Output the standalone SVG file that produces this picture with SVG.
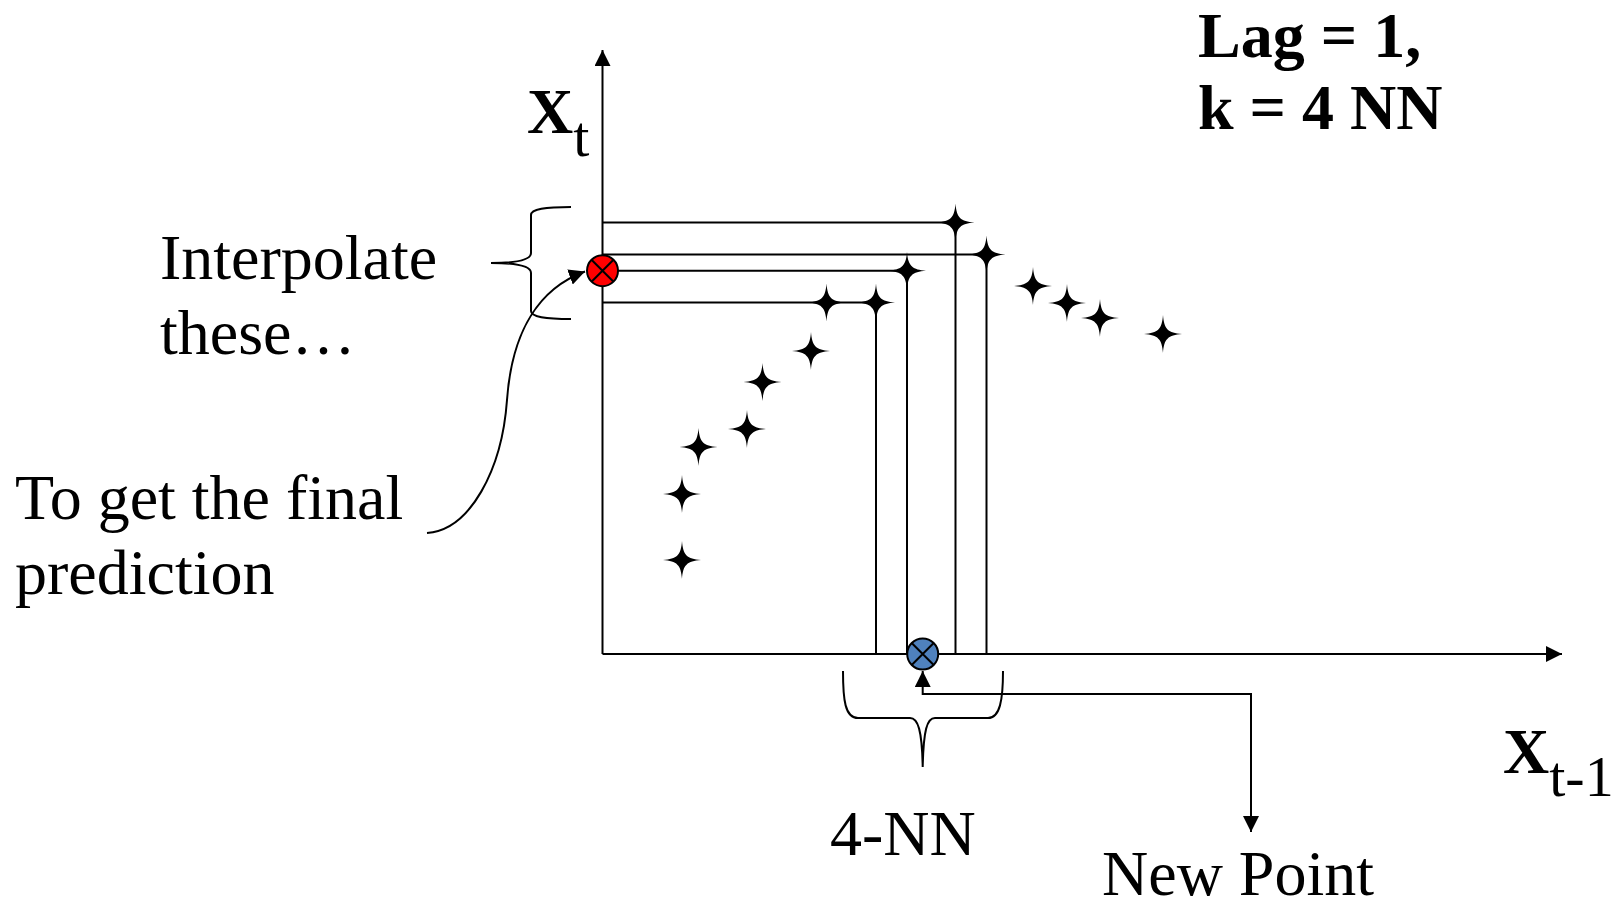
<svg xmlns="http://www.w3.org/2000/svg" width="1620" height="906" viewBox="0 0 1620 906">
<style>
.ln{stroke:#000;stroke-width:2;fill:none}
.txt{font-family:"Liberation Serif","Times New Roman",serif;font-size:64px;fill:#000}
.b{font-weight:bold}
.star{fill:#000}
</style>
<defs>
<marker id="ahb" viewBox="0 0 10 10" refX="10" refY="5" markerWidth="8" markerHeight="8" orient="auto"><path d="M0,0 L10,5 L0,10 Z" fill="#000"/></marker>
<path id="st" d="M0,-19 C1,-5 5,-1 19,0 C5,1 1,5 0,19 C-1,5 -5,1 -19,0 C-5,-1 -1,-5 0,-19 Z"/>
</defs>
<rect width="1620" height="906" fill="#fff"/>
<g id="connectors">
<line class="ln" x1="602.5" y1="654" x2="602.5" y2="50" marker-end="url(#ahb)"/>
<line class="ln" x1="602.5" y1="654" x2="1562" y2="654" marker-end="url(#ahb)"/>
<polyline class="ln" points="602.5,222.5 955.5,222.5 955.5,654"/>
<polyline class="ln" points="602.5,254.5 986.5,254.5 986.5,654"/>
<polyline class="ln" points="602.5,270.7 907,270.7 907,654"/>
<polyline class="ln" points="602.5,302.5 876,302.5 876,654"/>
<path class="ln" d="M571,207 C545,207 531,209 531,215 L531,253 C531,260 515,263 491,263 C515,263 531,266 531,273 L531,311 C531,317 545,319 571,319"/>
<path class="ln" d="M427,533 C470,530 502,470 507,400 C512,330 540,288 585,271.5" marker-end="url(#ahb)"/>
<path class="ln" d="M843,671 C843,700 845,718 858,718 L910,718 C918,718 922,730 922.7,767 C923.5,730 927,718 935,718 L988,718 C1000,718 1003,700 1003,671"/>
<polyline class="ln" points="1251,832 1251,694 922.7,694 922.7,671" marker-end="url(#ahb)"/>
<line class="ln" x1="1251" y1="700" x2="1251" y2="832" marker-end="url(#ahb)"/>
</g>
<g id="points">
<use href="#st" class="star" x="955.5" y="222.5"/>
<use href="#st" class="star" x="986.5" y="254.5"/>
<use href="#st" class="star" x="907" y="270.7"/>
<use href="#st" class="star" x="826.5" y="302.5"/>
<use href="#st" class="star" x="876" y="302.5"/>
<use href="#st" class="star" x="1033" y="286"/>
<use href="#st" class="star" x="1067" y="303"/>
<use href="#st" class="star" x="1100" y="318"/>
<use href="#st" class="star" x="1163" y="334"/>
<use href="#st" class="star" x="811" y="351"/>
<use href="#st" class="star" x="762.5" y="382"/>
<use href="#st" class="star" x="747" y="429"/>
<use href="#st" class="star" x="698.5" y="447"/>
<use href="#st" class="star" x="682" y="494"/>
<use href="#st" class="star" x="682" y="560"/>
</g>
<g id="prediction-node">
<circle cx="602.5" cy="270.7" r="15.5" fill="#FF0000" stroke="#000" stroke-width="2"/>
<path class="ln" d="M591.5,259.7 L613.5,281.7 M613.5,259.7 L591.5,281.7"/>
</g>
<g id="new-point-node">
<circle cx="922.7" cy="654" r="15.5" fill="#4F81BD" stroke="#000" stroke-width="2"/>
<path class="ln" d="M911.7,643 L933.7,665 M933.7,643 L911.7,665"/>
</g>
<g id="labels">
<text class="txt" x="527" y="133"><tspan class="b">X</tspan><tspan font-size="58" dy="23">t</tspan></text>
<text class="txt b" x="1198" y="57">Lag = 1,</text>
<text class="txt b" x="1198" y="129">k = 4 NN</text>
<text class="txt" x="1503" y="773"><tspan class="b">X</tspan><tspan font-size="58" dy="23">t-1</tspan></text>
<text class="txt" x="160" y="279">Interpolate</text>
<text class="txt" x="160" y="354">these…</text>
<text class="txt" x="15" y="519">To get the final</text>
<text class="txt" x="15" y="594">prediction</text>
<text class="txt" x="830" y="855">4-NN</text>
<text class="txt" x="1102" y="895">New Point</text>
</g>
</svg>
